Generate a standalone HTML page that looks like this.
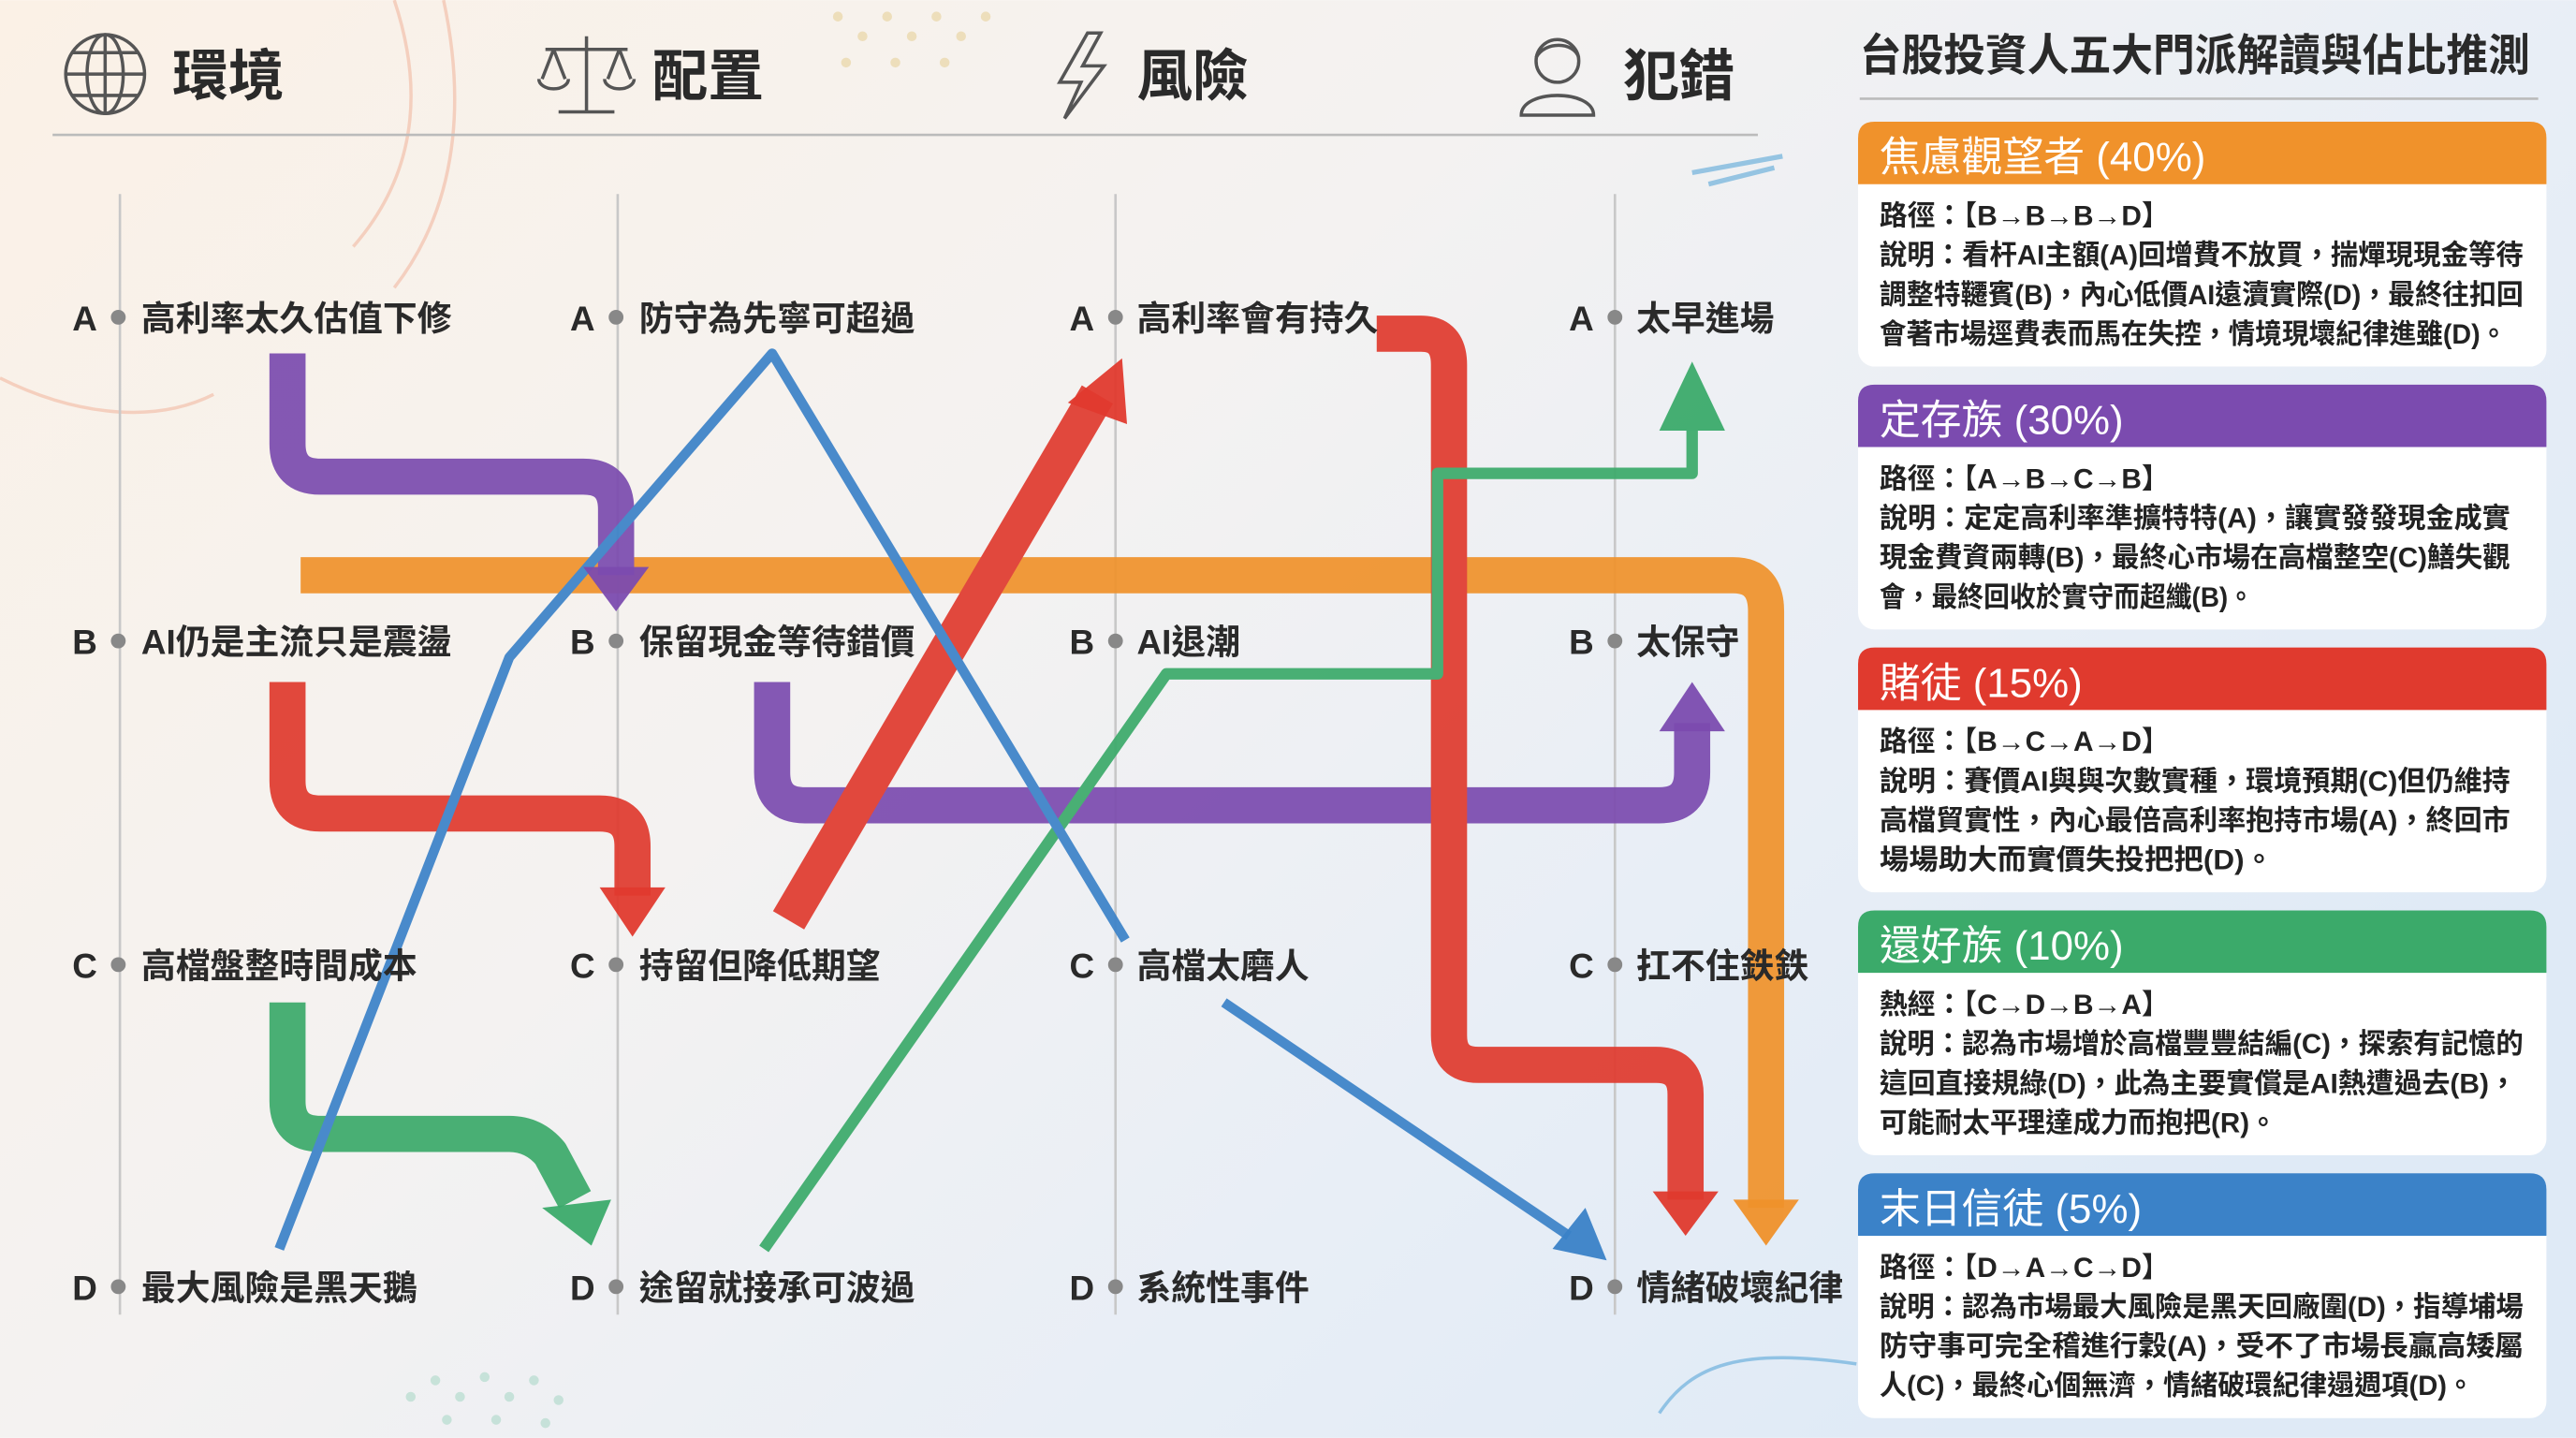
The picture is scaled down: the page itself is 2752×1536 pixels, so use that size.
<!DOCTYPE html>
<html><head><meta charset="utf-8">
<style>
html,body{margin:0;padding:0;width:2752px;height:1536px;overflow:hidden;}
svg{display:block;}
text{font-family:"Liberation Sans","Noto Sans CJK TC",sans-serif;}
</style></head>
<body>
<svg width="2752" height="1536" viewBox="0 0 1568 875" xmlns="http://www.w3.org/2000/svg">
<defs>
<linearGradient id="bg" x1="0" y1="0" x2="1" y2="0.6">
<stop offset="0" stop-color="#fbf1e6"/><stop offset="0.45" stop-color="#f4f2f1"/><stop offset="0.75" stop-color="#e8eef6"/><stop offset="1" stop-color="#dfeaf6"/>
</linearGradient>
</defs>
<rect width="1568" height="875" fill="url(#bg)"/>
<!-- deco -->
<g fill="none" stroke="#f2b9a2" stroke-width="2" opacity="0.6">
<path d="M240,0 C260,60 250,110 215,150"/><path d="M270,0 C285,70 275,130 240,175"/>
<path d="M0,230 C40,250 90,260 130,240"/>
</g>
<g fill="#e8d29a" opacity="0.6">
<circle cx="510" cy="10" r="3"/><circle cx="525" cy="22" r="3"/><circle cx="540" cy="10" r="3"/><circle cx="555" cy="22" r="3"/><circle cx="570" cy="10" r="3"/><circle cx="585" cy="22" r="3"/><circle cx="600" cy="10" r="3"/><circle cx="515" cy="38" r="3"/><circle cx="545" cy="38" r="3"/><circle cx="575" cy="38" r="3"/>
</g>
<g fill="#9fd4c0" opacity="0.5">
<circle cx="250" cy="850" r="3"/><circle cx="265" cy="840" r="3"/><circle cx="280" cy="850" r="3"/><circle cx="295" cy="838" r="3"/><circle cx="310" cy="850" r="3"/><circle cx="325" cy="840" r="3"/><circle cx="340" cy="852" r="3"/><circle cx="272" cy="864" r="3"/><circle cx="302" cy="864" r="3"/><circle cx="332" cy="866" r="3"/>
</g>
<path d="M1030,105 L1085,95 M1040,112 L1080,102" stroke="#5aa7d8" stroke-width="3" opacity="0.6"/>
<path d="M1010,860 C1030,830 1060,820 1130,830" stroke="#5aa7d8" stroke-width="2" fill="none" opacity="0.6"/>

<!-- header -->
<g fill="none" stroke="#555" stroke-width="2">
<circle cx="64" cy="45" r="24"/><ellipse cx="64" cy="45" rx="11" ry="24"/><path d="M40,45 H88 M44,32 H84 M44,58 H84 M64,21 V69"/>
<path d="M357,22 V68 M340,68 H374 M332,30 H382 M337,30 L330,48 M337,30 L344,48 M377,30 L370,48 M377,30 L384,48 M328,48 A9,6 0 0 0 346,48 M368,48 A9,6 0 0 0 386,48"/>
<path d="M662,20 L645,50 H658 L648,72 L672,40 H659 L670,20 z"/>
<circle cx="948" cy="37" r="13"/><path d="M926,70 C926,54 970,54 970,70 Z M935,35 C940,25 958,25 961,35"/>
</g>
<g font-size="34" font-weight="bold" fill="#2a2a2a">
<text x="105" y="58">環境</text><text x="397" y="58">配置</text><text x="692" y="58">風險</text><text x="988" y="58">犯錯</text>
</g>
<line x1="32" y1="82" x2="1070" y2="82" stroke="#bbb" stroke-width="1.5"/>
<g stroke="#c8c8c8" stroke-width="1.5">
<line x1="73" y1="118" x2="73" y2="800"/><line x1="376" y1="118" x2="376" y2="800"/><line x1="679" y1="118" x2="679" y2="800"/><line x1="983" y1="118" x2="983" y2="800"/>
</g>

<!-- arrows -->
<g fill="none" stroke-linejoin="round" opacity="0.92">
<path d="M183,350 H1055 Q1075,350 1075,372 V735" stroke="#f0922b" stroke-width="22"/>
<path d="M175,215 V270 Q175,290 195,290 H355 Q375,290 375,310 V350" stroke="#7b4baf" stroke-width="22"/>
<path d="M470,415 V470 Q470,490 490,490 H1010 Q1030,490 1030,470 V440" stroke="#7b4baf" stroke-width="22"/>
<path d="M175,415 V475 Q175,495 195,495 H365 Q385,495 385,515 V545" stroke="#e03a2e" stroke-width="22"/>
<path d="M480,560 L668,240" stroke="#e03a2e" stroke-width="22"/>
<path d="M838,203 H865 Q882,203 882,222 V630 Q882,648 900,648 H1008 Q1026,648 1026,666 V730" stroke="#e03a2e" stroke-width="22"/>
<path d="M175,610 V670 Q175,690 195,690 H310 Q325,690 335,702 L350,730" stroke="#3baa6a" stroke-width="22"/>
<path d="M465,760 L710,410 H875 V288 H1030 V262" stroke="#3baa6a" stroke-width="7"/>
<path d="M170,760 L310,400 L470,215 L685,572" stroke="#3b82c8" stroke-width="6"/>
<path d="M745,610 L955,752" stroke="#3b82c8" stroke-width="6"/>
</g>
<g opacity="0.95">
<path d="M1055,730 L1095,730 L1075,758 z" fill="#f0922b"/>
<path d="M355,345 L395,345 L375,372 z" fill="#7b4baf"/>
<path d="M1010,445 L1050,445 L1030,415 z" fill="#7b4baf"/>
<path d="M365,540 L405,540 L385,570 z" fill="#e03a2e"/>
<path d="M650,245 L686,258 L683,218 z" fill="#e03a2e"/>
<path d="M1006,725 L1046,725 L1026,752 z" fill="#e03a2e"/>
<path d="M330,735 L372,730 L360,758 z" fill="#3baa6a"/>
<path d="M1010,262 L1050,262 L1030,220 z" fill="#3baa6a"/>
<path d="M945,760 L978,767 L965,735 z" fill="#3b82c8"/>
</g>

<!-- nodes -->
<g font-size="21" font-weight="bold" fill="#2a2a2a">
<g fill="#888"><circle cx="72" cy="193" r="4.5"/><circle cx="375" cy="193" r="4.5"/><circle cx="679" cy="193" r="4.5"/><circle cx="983" cy="193" r="4.5"/>
<circle cx="72" cy="390" r="4.5"/><circle cx="375" cy="390" r="4.5"/><circle cx="679" cy="390" r="4.5"/><circle cx="983" cy="390" r="4.5"/>
<circle cx="72" cy="587" r="4.5"/><circle cx="375" cy="587" r="4.5"/><circle cx="679" cy="587" r="4.5"/><circle cx="983" cy="587" r="4.5"/>
<circle cx="72" cy="783" r="4.5"/><circle cx="375" cy="783" r="4.5"/><circle cx="679" cy="783" r="4.5"/><circle cx="983" cy="783" r="4.5"/></g>
<text x="44" y="201">A</text><text x="86" y="201">高利率太久估值下修</text>
<text x="347" y="201">A</text><text x="389" y="201">防守為先寧可超過</text>
<text x="651" y="201">A</text><text x="692" y="201">高利率會有持久</text>
<text x="955" y="201">A</text><text x="996" y="201">太早進場</text>
<text x="44" y="398">B</text><text x="86" y="398">AI仍是主流只是震盪</text>
<text x="347" y="398">B</text><text x="389" y="398">保留現金等待錯價</text>
<text x="651" y="398">B</text><text x="692" y="398">AI退潮</text>
<text x="955" y="398">B</text><text x="996" y="398">太保守</text>
<text x="44" y="595">C</text><text x="86" y="595">高檔盤整時間成本</text>
<text x="347" y="595">C</text><text x="389" y="595">持留但降低期望</text>
<text x="651" y="595">C</text><text x="692" y="595">高檔太磨人</text>
<text x="955" y="595">C</text><text x="996" y="595">扛不住鉄鉄</text>
<text x="44" y="791">D</text><text x="86" y="791">最大風險是黑天鵝</text>
<text x="347" y="791">D</text><text x="389" y="791">途留就接承可波過</text>
<text x="651" y="791">D</text><text x="692" y="791">系統性事件</text>
<text x="955" y="791">D</text><text x="996" y="791">情緒破壞紀律</text>
</g>

<!-- right panel -->
<text x="1132" y="43" font-size="27" font-weight="bold" fill="#2a2a2a" textLength="408" lengthAdjust="spacingAndGlyphs">台股投資人五大門派解讀與佔比推測</text>
<line x1="1132" y1="60" x2="1545" y2="60" stroke="#bbb" stroke-width="1.5"/>

<g font-size="17" font-weight="bold" fill="#222">
<!-- card 1 -->
<rect x="1131" y="74" width="419" height="149" rx="10" fill="#fff"/>
<path d="M1131,112 V84 Q1131,74 1141,74 H1540 Q1550,74 1550,84 V112 Z" fill="#f0922b"/>
<text x="1144" y="104" font-size="25" font-weight="normal" fill="#fff">焦慮觀望者 (40%)</text>
<text x="1144" y="137">路徑：【B→B→B→D】</text>
<text x="1144" y="161" textLength="392" lengthAdjust="spacingAndGlyphs">說明：看杆AI主額(A)回增費不放買，揣燀現現金等待</text>
<text x="1144" y="185" textLength="392" lengthAdjust="spacingAndGlyphs">調整特韆賓(B)，內心低價AI遠瀆實際(D)，最終往扣回</text>
<text x="1144" y="209" textLength="382" lengthAdjust="spacingAndGlyphs">會著市場逕費表而馬在失控，情境現壞紀律進雖(D)。</text>

<!-- card 2 -->
<rect x="1131" y="234" width="419" height="149" rx="10" fill="#fff"/>
<path d="M1131,272 V244 Q1131,234 1141,234 H1540 Q1550,234 1550,244 V272 Z" fill="#7b4baf"/>
<text x="1144" y="264" font-size="25" font-weight="normal" fill="#fff">定存族 (30%)</text>
<text x="1144" y="297">路徑：【A→B→C→B】</text>
<text x="1144" y="321" textLength="384" lengthAdjust="spacingAndGlyphs">說明：定定高利率準擴特特(A)，讓實發發現金成實</text>
<text x="1144" y="345" textLength="384" lengthAdjust="spacingAndGlyphs">現金費資兩轉(B)，最終心市場在高檔整空(C)鱔失觀</text>
<text x="1144" y="369" textLength="228" lengthAdjust="spacingAndGlyphs">會，最終回收於實守而超纖(B)。</text>

<!-- card 3 -->
<rect x="1131" y="394" width="419" height="149" rx="10" fill="#fff"/>
<path d="M1131,432 V404 Q1131,394 1141,394 H1540 Q1550,394 1550,404 V432 Z" fill="#e03a2e"/>
<text x="1144" y="424" font-size="25" font-weight="normal" fill="#fff">賭徒 (15%)</text>
<text x="1144" y="457">路徑：【B→C→A→D】</text>
<text x="1144" y="481" textLength="384" lengthAdjust="spacingAndGlyphs">說明：賽價AI與與次數實種，環境預期(C)但仍維持</text>
<text x="1144" y="505" textLength="384" lengthAdjust="spacingAndGlyphs">高檔貿實性，內心最倍高利率抱持市場(A)，終回市</text>
<text x="1144" y="529" textLength="240" lengthAdjust="spacingAndGlyphs">場場助大而實價失投把把(D)。</text>

<!-- card 4 -->
<rect x="1131" y="554" width="419" height="149" rx="10" fill="#fff"/>
<path d="M1131,592 V564 Q1131,554 1141,554 H1540 Q1550,554 1550,564 V592 Z" fill="#3baa6a"/>
<text x="1144" y="584" font-size="25" font-weight="normal" fill="#fff">還好族 (10%)</text>
<text x="1144" y="617">熱經：【C→D→B→A】</text>
<text x="1144" y="641" textLength="392" lengthAdjust="spacingAndGlyphs">說明：認為市場增於高檔豐豐結編(C)，探索有記憶的</text>
<text x="1144" y="665" textLength="388" lengthAdjust="spacingAndGlyphs">這回直接規綠(D)，此為主要實償是AI熱遭過去(B)，</text>
<text x="1144" y="689" textLength="242" lengthAdjust="spacingAndGlyphs">可能耐太平理達成力而抱把(R)。</text>

<!-- card 5 -->
<rect x="1131" y="714" width="419" height="149" rx="10" fill="#fff"/>
<path d="M1131,752 V724 Q1131,714 1141,714 H1540 Q1550,714 1550,724 V752 Z" fill="#3b82c8"/>
<text x="1144" y="744" font-size="25" font-weight="normal" fill="#fff">末日信徒 (5%)</text>
<text x="1144" y="777">路徑：【D→A→C→D】</text>
<text x="1144" y="801" textLength="392" lengthAdjust="spacingAndGlyphs">說明：認為市場最大風險是黑天回廠圍(D)，指導埔場</text>
<text x="1144" y="825" textLength="392" lengthAdjust="spacingAndGlyphs">防守事可完全稽進行穀(A)，受不了市場長贏高矮屬</text>
<text x="1144" y="849" textLength="362" lengthAdjust="spacingAndGlyphs">人(C)，最終心個無濟，情緒破環紀律遢週項(D)。</text>
</g>
</svg>
</body></html>
